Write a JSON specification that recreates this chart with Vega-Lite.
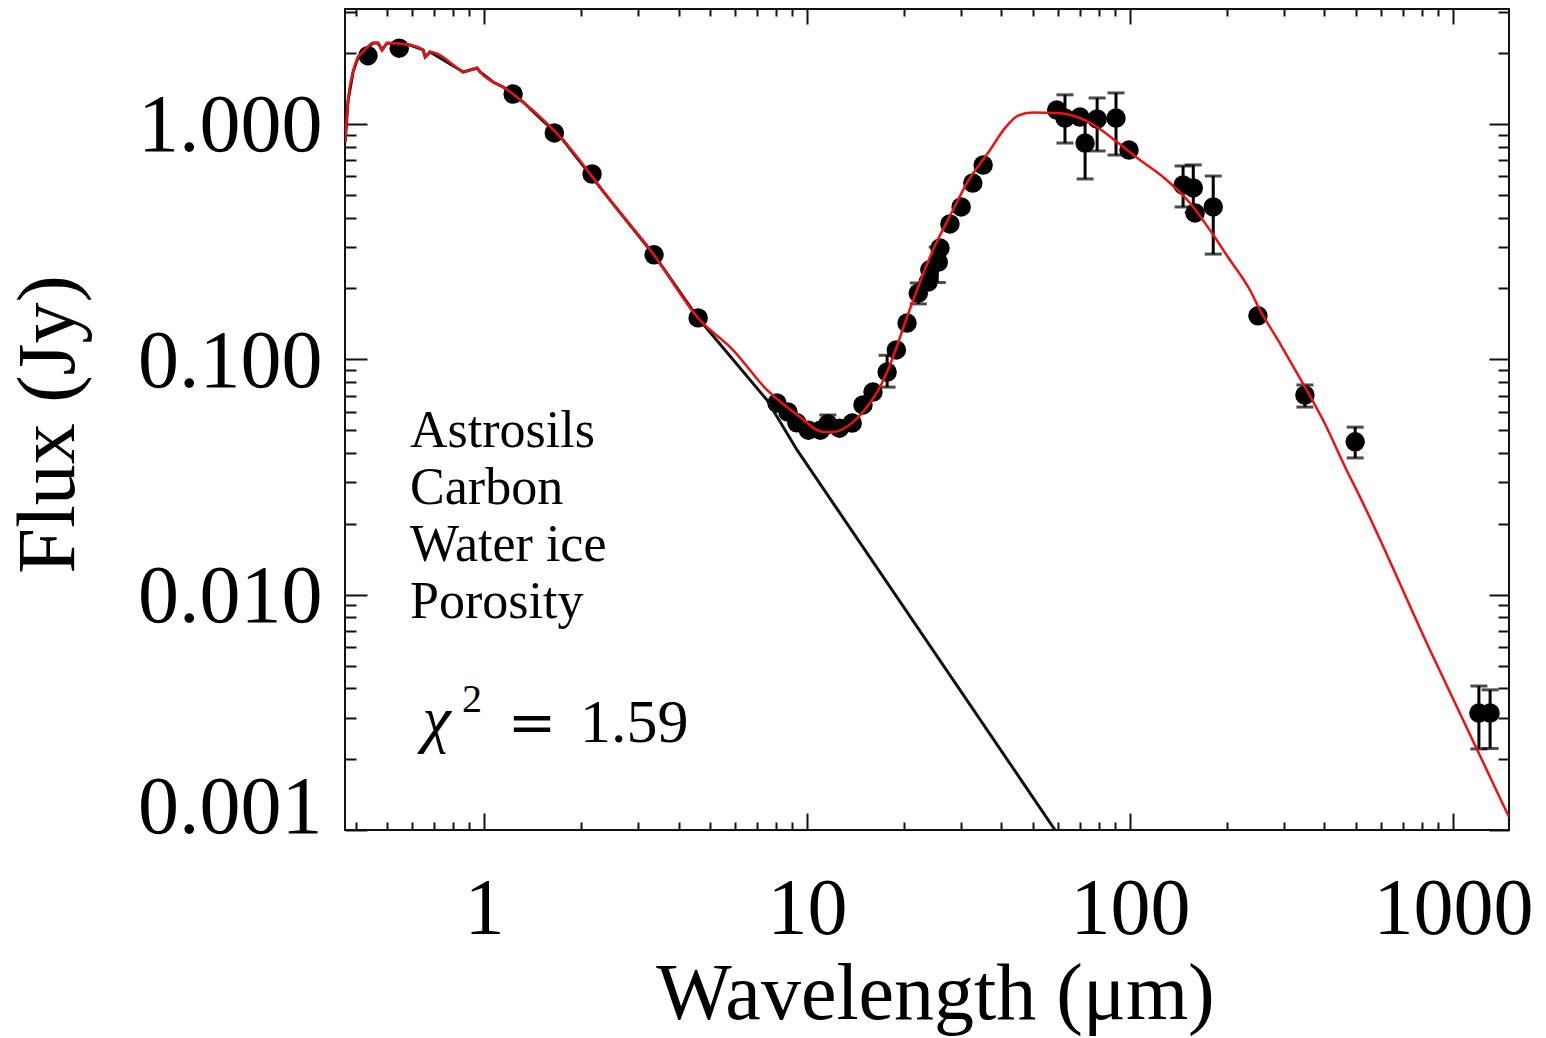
{
  "$schema": "https://vega.github.io/schema/vega-lite/v6.json",
  "width": 1164,
  "height": 821,
  "autosize": {"type": "none"},
  "padding": {"left": 345, "top": 9, "right": 37, "bottom": 208},
  "background": "white",
  "config": {
    "view": {"stroke": "#111", "strokeWidth": 2},
    "axis": {"tickColor": "#111", "tickWidth": 2, "domain": false, "grid": false, "labelLimit": 0}
  },
  "datasets": {
    "obs": [
      {"x": 0.437, "y": 1.95}, {"x": 0.546, "y": 2.10}, {"x": 1.23, "y": 1.34}, {"x": 1.65, "y": 0.916},
      {"x": 2.16, "y": 0.613}, {"x": 3.36, "y": 0.278}, {"x": 4.60, "y": 0.150},
      {"x": 8.07, "y": 0.0652}, {"x": 8.73, "y": 0.0597}, {"x": 9.3, "y": 0.0537}, {"x": 10.1, "y": 0.0500},
      {"x": 11.0, "y": 0.0500}, {"x": 11.6, "y": 0.0531}, {"x": 12.6, "y": 0.0510}, {"x": 13.8, "y": 0.0536},
      {"x": 14.9, "y": 0.0640}, {"x": 16.0, "y": 0.0726}, {"x": 17.7, "y": 0.0883}, {"x": 18.9, "y": 0.1096},
      {"x": 20.4, "y": 0.1426}, {"x": 22.1, "y": 0.191}, {"x": 23.7, "y": 0.213}, {"x": 24.0, "y": 0.240},
      {"x": 25.5, "y": 0.259}, {"x": 25.8, "y": 0.297}, {"x": 27.7, "y": 0.376}, {"x": 30.0, "y": 0.444},
      {"x": 32.6, "y": 0.561}, {"x": 35.1, "y": 0.669},
      {"x": 59.3, "y": 1.146}, {"x": 62.9, "y": 1.06}, {"x": 70.0, "y": 1.07}, {"x": 72.6, "y": 0.83},
      {"x": 79.1, "y": 1.05}, {"x": 90.5, "y": 1.06}, {"x": 99.3, "y": 0.775},
      {"x": 146, "y": 0.55}, {"x": 157, "y": 0.535}, {"x": 159, "y": 0.419}, {"x": 181, "y": 0.444},
      {"x": 249, "y": 0.153}, {"x": 348, "y": 0.0705}, {"x": 498, "y": 0.0446},
      {"x": 1203, "y": 0.00314}, {"x": 1303, "y": 0.00314}
    ],
    "err": [
      {"x": 11.6, "lo": 0.049, "hi": 0.058},
      {"x": 17.7, "lo": 0.0762, "hi": 0.104},
      {"x": 22.1, "lo": 0.172, "hi": 0.211},
      {"x": 25.3, "lo": 0.212, "hi": 0.30},
      {"x": 62.9, "lo": 0.83, "hi": 1.33},
      {"x": 72.6, "lo": 0.584, "hi": 1.08},
      {"x": 79.1, "lo": 0.768, "hi": 1.29},
      {"x": 90.5, "lo": 0.738, "hi": 1.355},
      {"x": 146, "lo": 0.444, "hi": 0.663},
      {"x": 157, "lo": 0.42, "hi": 0.67},
      {"x": 181, "lo": 0.28, "hi": 0.601},
      {"x": 348, "lo": 0.0627, "hi": 0.0778},
      {"x": 498, "lo": 0.0381, "hi": 0.0515},
      {"x": 1203, "lo": 0.00221, "hi": 0.00409},
      {"x": 1303, "lo": 0.00222, "hi": 0.00394}
    ],
    "total": [
      {"x": 0.3713, "y": 0.838}, {"x": 0.3794, "y": 1.265}, {"x": 0.3930, "y": 1.663}, {"x": 0.4074, "y": 1.926},
      {"x": 0.4220, "y": 2.023}, {"x": 0.4531, "y": 2.209}, {"x": 0.4696, "y": 2.209}, {"x": 0.4832, "y": 2.063},
      {"x": 0.5008, "y": 2.209}, {"x": 0.5901, "y": 2.166}, {"x": 0.6475, "y": 2.063}, {"x": 0.6568, "y": 1.926},
      {"x": 0.6806, "y": 2.023}, {"x": 0.8428, "y": 1.696}, {"x": 0.8611, "y": 1.663}, {"x": 0.9512, "y": 1.730},
      {"x": 0.9719, "y": 1.663}, {"x": 1.066, "y": 1.508}, {"x": 1.145, "y": 1.436}, {"x": 1.320, "y": 1.240},
      {"x": 1.756, "y": 0.855}, {"x": 2.455, "y": 0.475}, {"x": 3.360, "y": 0.2776}, {"x": 4.598, "y": 0.1498},
      {"x": 5.902, "y": 0.1095}, {"x": 7.518, "y": 0.0741}, {"x": 9.513, "y": 0.0569}, {"x": 11.21, "y": 0.0491},
      {"x": 12.04, "y": 0.0491}, {"x": 13.88, "y": 0.0541}, {"x": 15.34, "y": 0.0627}, {"x": 17.07, "y": 0.0793},
      {"x": 18.46, "y": 0.1023}, {"x": 20.40, "y": 0.1513}, {"x": 24.55, "y": 0.2914}, {"x": 28.31, "y": 0.431},
      {"x": 31.28, "y": 0.5615}, {"x": 36.87, "y": 0.7752}, {"x": 41.0, "y": 0.96}, {"x": 45.0, "y": 1.085},
      {"x": 50.0, "y": 1.12}, {"x": 59.43, "y": 1.114}, {"x": 70.01, "y": 1.060}, {"x": 79.05, "y": 0.971},
      {"x": 91.17, "y": 0.838}, {"x": 107.4, "y": 0.703}, {"x": 126.6, "y": 0.5953}, {"x": 153.4, "y": 0.4615},
      {"x": 179.4, "y": 0.344}, {"x": 201, "y": 0.272}, {"x": 235.2, "y": 0.197}, {"x": 252.6, "y": 0.162},
      {"x": 290, "y": 0.118}, {"x": 328.9, "y": 0.0874}, {"x": 395.9, "y": 0.0552}, {"x": 479.9, "y": 0.0316},
      {"x": 497.3, "y": 0.0287}, {"x": 848.8, "y": 0.00582}, {"x": 1491, "y": 0.001135}
    ],
    "star": [
      {"x": 0.3713, "y": 0.838}, {"x": 0.3794, "y": 1.265}, {"x": 0.3930, "y": 1.663}, {"x": 0.4074, "y": 1.926},
      {"x": 0.4220, "y": 2.023}, {"x": 0.4531, "y": 2.209}, {"x": 0.4696, "y": 2.209}, {"x": 0.4832, "y": 2.063},
      {"x": 0.5008, "y": 2.209}, {"x": 0.5901, "y": 2.166}, {"x": 0.6475, "y": 2.063}, {"x": 0.6568, "y": 1.926},
      {"x": 0.6806, "y": 2.023}, {"x": 0.8428, "y": 1.696}, {"x": 0.8611, "y": 1.663}, {"x": 0.9512, "y": 1.730},
      {"x": 0.9719, "y": 1.663}, {"x": 1.066, "y": 1.508}, {"x": 1.145, "y": 1.436}, {"x": 1.320, "y": 1.240},
      {"x": 1.756, "y": 0.855}, {"x": 2.455, "y": 0.475}, {"x": 3.360, "y": 0.2776}, {"x": 4.598, "y": 0.1498},
      {"x": 7.518, "y": 0.0671}, {"x": 9.31, "y": 0.0412}, {"x": 58.6, "y": 0.001}
    ]
  },
  "resolve": {"axis": {"x": "independent", "y": "independent"}},
  "layer": [
    {
      "data": {"name": "err"},
      "mark": {"type": "errorbar", "ticks": true, "size": 17, "thickness": 3, "color": "#000"},
      "encoding": {
        "x": {"field": "x", "type": "quantitative", "scale": {"type": "log", "domain": [0.371, 1491], "nice": false}, "axis": null},
        "y": {"field": "lo", "type": "quantitative", "scale": {"type": "log", "domain": [0.001, 3.08], "nice": false}, "axis": null},
        "y2": {"field": "hi"}
      }
    },
    {
      "data": {"name": "obs"},
      "mark": {"type": "circle", "size": 380, "color": "#000", "opacity": 1},
      "encoding": {
        "x": {"field": "x", "type": "quantitative", "axis": null},
        "y": {"field": "y", "type": "quantitative", "axis": null}
      }
    },
    {
      "data": {"name": "star"},
      "mark": {"type": "line", "color": "#111", "strokeWidth": 3, "clip": true},
      "encoding": {
        "x": {
          "field": "x", "type": "quantitative",
          "axis": {
            "orient": "bottom",
            "values": [0.4, 0.5, 0.6, 0.7, 0.8, 0.9, 1, 2, 3, 4, 5, 6, 7, 8, 9, 10, 20, 30, 40, 50, 60, 70, 80, 90, 100, 200, 300, 400, 500, 600, 700, 800, 900, 1000],
            "tickSize": {"condition": {"test": "datum.value == 1 || datum.value == 10 || datum.value == 100 || datum.value == 1000", "value": -17}, "value": -8},
            "labelExpr": "(datum.value == 1 || datum.value == 10 || datum.value == 100 || datum.value == 1000) ? format(datum.value, 'd') : ''",
            "labelFont": "Liberation Serif", "labelFontSize": 80, "labelColor": "#000",
            "labelPadding": 57, "labelBaseline": "top", "labelAlign": "center",
            "labelFlush": false, "labelOverlap": false, "labelBound": false,
            "title": "Wavelength (μm)", "titleFont": "Liberation Serif", "titleFontSize": 80, "titleFontWeight": "normal",
            "titleColor": "#000", "titleBaseline": "alphabetic", "titleAlign": "center", "titleX": 590, "titleY": 188
          }
        },
        "y": {
          "field": "y", "type": "quantitative",
          "axis": {
            "orient": "left",
            "values": [0.001, 0.002, 0.003, 0.004, 0.005, 0.006, 0.007, 0.008, 0.009, 0.01, 0.02, 0.03, 0.04, 0.05, 0.06, 0.07, 0.08, 0.09, 0.1, 0.2, 0.3, 0.4, 0.5, 0.6, 0.7, 0.8, 0.9, 1, 2, 3],
            "tickSize": {"condition": {"test": "datum.value == 1 || datum.value == 0.1 || datum.value == 0.01 || datum.value == 0.001", "value": -22}, "value": -11},
            "labelExpr": "(datum.value == 1 || datum.value == 0.1 || datum.value == 0.01 || datum.value == 0.001) ? format(datum.value, '.3f') : ''",
            "labelFont": "Liberation Serif", "labelFontSize": 82, "labelColor": "#000",
            "labelPadding": 45, "labelAlign": "right", "labelBaseline": "middle",
            "labelOffset": {"condition": {"test": "datum.value == 0.001", "value": -23}, "value": 2},
            "labelFlush": false, "labelOverlap": false, "labelBound": false,
            "title": "Flux (Jy)", "titleFont": "Liberation Serif", "titleFontSize": 82, "titleFontWeight": "normal",
            "titleColor": "#000", "titleBaseline": "alphabetic", "titleAlign": "center", "titleAngle": -90, "titleX": -272, "titleY": 415
          }
        }
      }
    },
    {
      "data": {"name": "total"},
      "mark": {"type": "line", "color": "#ee1111", "strokeWidth": 2.5, "clip": true, "interpolate": "monotone"},
      "encoding": {
        "x": {
          "field": "x", "type": "quantitative",
          "axis": {
            "orient": "top",
            "values": [0.4, 0.5, 0.6, 0.7, 0.8, 0.9, 1, 2, 3, 4, 5, 6, 7, 8, 9, 10, 20, 30, 40, 50, 60, 70, 80, 90, 100, 200, 300, 400, 500, 600, 700, 800, 900, 1000],
            "tickSize": {"condition": {"test": "datum.value == 1 || datum.value == 10 || datum.value == 100 || datum.value == 1000", "value": -15}, "value": -7},
            "labels": false, "title": null
          }
        },
        "y": {
          "field": "y", "type": "quantitative",
          "axis": {
            "orient": "right",
            "values": [0.001, 0.002, 0.003, 0.004, 0.005, 0.006, 0.007, 0.008, 0.009, 0.01, 0.02, 0.03, 0.04, 0.05, 0.06, 0.07, 0.08, 0.09, 0.1, 0.2, 0.3, 0.4, 0.5, 0.6, 0.7, 0.8, 0.9, 1, 2, 3],
            "tickSize": {"condition": {"test": "datum.value == 1 || datum.value == 0.1 || datum.value == 0.01 || datum.value == 0.001", "value": -20}, "value": -11},
            "labels": false, "title": null
          }
        }
      }
    },
    {
      "data": {"values": [{}]},
      "mark": {"type": "text", "text": ["Astrosils", "Carbon", "Water ice", "Porosity"], "lineHeight": 57, "font": "Liberation Serif", "fontSize": 52, "align": "left", "baseline": "alphabetic", "color": "#000"},
      "encoding": {
        "x": {"datum": 0.59, "type": "quantitative", "axis": null},
        "y": {"datum": 0.0424, "type": "quantitative", "axis": null}
      }
    },
    {
      "data": {"values": [{}]},
      "mark": {"type": "text", "text": "χ", "font": "Liberation Serif", "fontStyle": "italic", "fontSize": 64, "align": "left", "baseline": "alphabetic", "color": "#000"},
      "encoding": {
        "x": {"datum": 0.645, "type": "quantitative", "axis": null},
        "y": {"datum": 0.00241, "type": "quantitative", "axis": null}
      }
    },
    {
      "data": {"values": [{}]},
      "mark": {"type": "text", "text": "2", "font": "Liberation Serif", "fontSize": 40, "align": "left", "baseline": "alphabetic", "color": "#000"},
      "encoding": {
        "x": {"datum": 0.855, "type": "quantitative", "axis": null},
        "y": {"datum": 0.00318, "type": "quantitative", "axis": null}
      }
    },
    {
      "data": {"values": [{}]},
      "mark": {"type": "text", "text": "=", "font": "DejaVu Serif", "fontSize": 58, "align": "center", "baseline": "alphabetic", "color": "#000"},
      "encoding": {
        "x": {"datum": 1.408, "type": "quantitative", "axis": null},
        "y": {"datum": 0.002364, "type": "quantitative", "axis": null}
      }
    },
    {
      "data": {"values": [{}]},
      "mark": {"type": "text", "text": "1.59", "font": "Liberation Serif", "fontSize": 62, "align": "left", "baseline": "alphabetic", "color": "#000"},
      "encoding": {
        "x": {"datum": 1.983, "type": "quantitative", "axis": null},
        "y": {"datum": 0.002364, "type": "quantitative", "axis": null}
      }
    }
  ]
}
